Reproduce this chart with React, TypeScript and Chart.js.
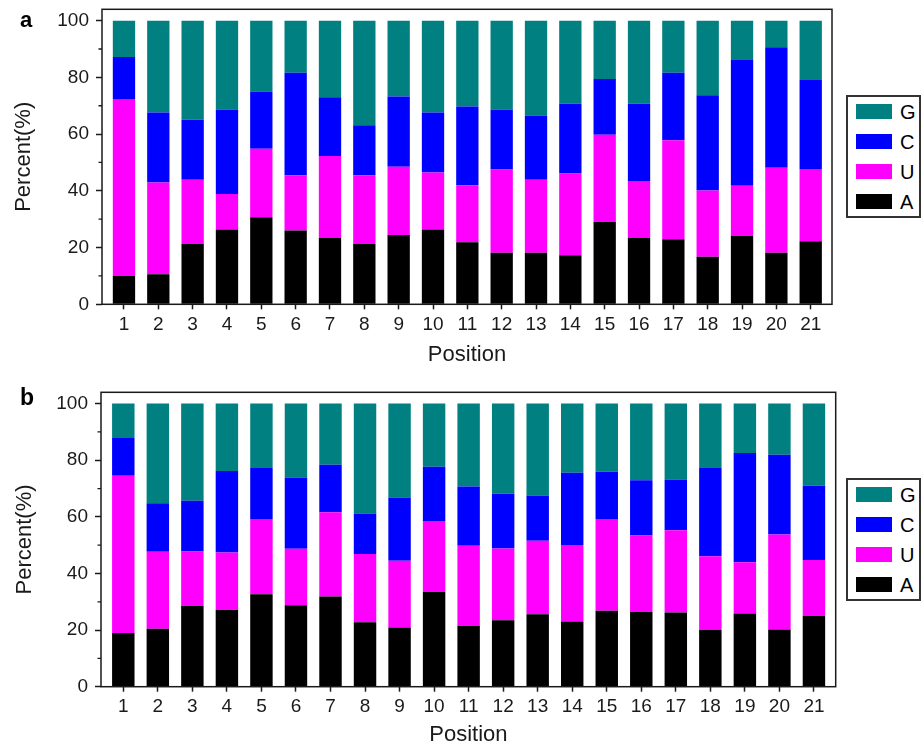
import React, { useEffect, useRef } from "react";
import { Chart, registerables } from "chart.js";

Chart.register(...registerables);

const positions = [1, 2, 3, 4, 5, 6, 7, 8, 9, 10, 11, 12, 13, 14, 15, 16, 17, 18, 19, 20, 21];
const yMajorTicks = [0, 20, 40, 60, 80, 100];
const yMinorTicks = [10, 30, 50, 70, 90];
const baseNames = ["A", "U", "C", "G"];
const baseColors = ["#000000", "#FF00FF", "#0000FF", "#008080"];
const legendOrder = [3, 2, 1, 0];

// Panel a (percent of each base per position)
const aA = [10.0, 10.6, 21.3, 26.4, 30.7, 26.0, 23.4, 21.3, 24.4, 26.4, 21.9, 18.2, 18.2, 17.3, 29.1, 23.4, 22.9, 16.8, 24.2, 18.2, 22.2];
const aU = [62.4, 32.3, 22.6, 12.5, 24.1, 19.5, 28.9, 24.2, 24.1, 20.1, 20.1, 29.3, 25.7, 28.8, 30.7, 20.1, 34.9, 23.3, 17.6, 29.9, 25.5];
const aC = [14.8, 24.7, 21.2, 29.8, 20.2, 36.1, 20.7, 17.6, 24.8, 21.1, 27.7, 21.2, 22.7, 24.6, 19.6, 27.2, 23.8, 33.6, 44.3, 42.5, 31.4];
const aG = [12.8, 32.4, 34.9, 31.3, 25.0, 18.4, 27.0, 36.9, 26.7, 32.4, 30.3, 31.3, 33.4, 29.3, 20.6, 29.3, 18.4, 26.3, 13.9, 9.4, 20.9];

// Panel b
const bA = [19.0, 20.5, 28.6, 27.2, 32.7, 28.8, 31.9, 22.8, 20.9, 33.5, 21.5, 23.5, 25.6, 23.0, 26.8, 26.4, 26.2, 20.0, 25.9, 20.2, 25.1];
const bU = [55.5, 27.2, 19.2, 20.2, 26.5, 19.9, 29.7, 24.1, 23.6, 25.0, 28.3, 25.3, 26.0, 27.1, 32.4, 27.0, 29.1, 26.1, 18.1, 33.6, 19.7];
const bC = [13.4, 17.1, 17.9, 28.8, 18.1, 25.2, 16.8, 14.3, 22.3, 19.2, 20.9, 19.4, 15.9, 25.5, 16.7, 19.5, 17.9, 31.2, 38.6, 28.1, 26.2];
const bG = [12.1, 35.2, 34.3, 23.8, 22.7, 26.1, 21.6, 38.8, 33.2, 22.3, 29.3, 31.8, 32.5, 24.4, 24.1, 27.1, 26.8, 22.7, 17.4, 18.1, 29.0];

const FONT = "'Liberation Sans', Arial, Helvetica, sans-serif";
const INK = "#1a1a1a";

const framePlugin = {
  id: "frame",
  afterDraw(chart: any) {
    const { ctx, chartArea } = chart;
    const { left, top, right, bottom } = chartArea;
    const y = chart.scales.y;
    ctx.save();
    ctx.strokeStyle = INK;
    ctx.lineWidth = 1.5;
    ctx.strokeRect(left, top, right - left, bottom - top);
    ctx.beginPath();
    for (const v of yMinorTicks) {
      const py = y.getPixelForValue(v);
      ctx.moveTo(left - 3.5, py);
      ctx.lineTo(left, py);
    }
    ctx.lineWidth = 1.3;
    ctx.stroke();
    ctx.restore();
  },
};

type PanelProps = {
  top: number;
  height: number;
  series: number[][];
  padTop: number;
  padRight: number;
  yAxisWidth: number;
  xAxisHeight: number;
  yTitlePad: number;
  xTitlePad: number;
  xMin: number;
  xMax: number;
};

function Panel(p: PanelProps) {
  const ref = useRef<HTMLCanvasElement | null>(null);
  useEffect(() => {
    if (!ref.current) return;
    const datasets = p.series.map((vals, i) => ({
      label: baseNames[i],
      data: positions.map((x, j) => ({ x, y: vals[j] })),
      backgroundColor: baseColors[i],
      borderWidth: 0,
      categoryPercentage: 1,
      barPercentage: 0.65,
    }));
    const chart = new Chart(ref.current, {
      type: "bar",
      data: { datasets },
      options: {
        animation: false,
        responsive: false,
        layout: { padding: { top: p.padTop, right: p.padRight, left: 0, bottom: 0 } },
        plugins: { legend: { display: false }, tooltip: { enabled: false } },
        scales: {
          x: {
            type: "linear",
            stacked: true,
            offset: false,
            min: p.xMin,
            max: p.xMax,
            afterBuildTicks: (axis: any) => {
              axis.ticks = positions.map((v) => ({ value: v }));
            },
            afterFit: (s: any) => {
              s.height = p.xAxisHeight;
              s.paddingLeft = 0;
              s.paddingRight = 0;
            },
            grid: {
              display: true,
              offset: false,
              drawOnChartArea: false,
              drawTicks: true,
              tickLength: 5,
              tickColor: INK,
              tickWidth: 1.5,
            },
            border: { display: false },
            ticks: {
              color: INK,
              font: { family: FONT, size: 19 },
              padding: 4,
              maxRotation: 0,
              autoSkip: false,
              callback: (v: any) => String(v),
            },
            title: {
              display: true,
              text: "Position",
              color: INK,
              font: { family: FONT, size: 22 },
              padding: { top: 0, bottom: p.xTitlePad },
            },
          },
          y: {
            type: "linear",
            stacked: true,
            min: 0,
            max: 104,
            afterBuildTicks: (axis: any) => {
              axis.ticks = yMajorTicks.map((v) => ({ value: v }));
            },
            afterFit: (s: any) => {
              s.width = p.yAxisWidth;
              s.paddingTop = 0;
              s.paddingBottom = 0;
            },
            grid: {
              display: true,
              drawOnChartArea: false,
              drawTicks: true,
              tickLength: 6,
              tickColor: INK,
              tickWidth: 1.5,
            },
            border: { display: false },
            ticks: {
              color: INK,
              font: { family: FONT, size: 19 },
              padding: 7,
              callback: (v: any) => String(v),
            },
            title: {
              display: true,
              text: "Percent(%)",
              color: INK,
              font: { family: FONT, size: 22 },
              padding: { top: p.yTitlePad, bottom: 0 },
            },
          },
        },
      },
      plugins: [framePlugin],
    } as any);
    return () => chart.destroy();
  }, []);
  return (
    <canvas
      ref={ref}
      width={924}
      height={p.height}
      style={{ position: "absolute", left: 0, top: p.top, width: 924, height: p.height }}
    />
  );
}

function Legend({ top }: { top: number }) {
  return (
    <div
      style={{
        position: "absolute",
        left: 846,
        top,
        width: 75,
        height: 123,
        boxSizing: "border-box",
        border: "2px solid #333",
        background: "#fff",
      }}
    >
      {legendOrder.map((idx, k) => (
        <div key={baseNames[idx]}>
          <div
            style={{
              position: "absolute",
              left: 8,
              top: 14.8 + 30 * k - 7.5,
              width: 36,
              height: 15,
              background: baseColors[idx],
            }}
          />
          <div
            style={{
              position: "absolute",
              left: 52,
              top: 14.8 + 30 * k - 11,
              height: 22,
              lineHeight: "22px",
              fontFamily: FONT,
              fontSize: 20,
              color: "#000",
            }}
          >
            {baseNames[idx]}
          </div>
        </div>
      ))}
    </div>
  );
}

export default function App() {
  return (
    <div
      style={{
        position: "absolute",
        left: 0,
        top: 0,
        width: 924,
        height: 745,
        overflow: "hidden",
        background: "#fff",
      }}
    >
      <Panel
        top={0}
        height={372}
        series={[aA, aU, aC, aG]}
        padTop={9.3}
        padRight={92}
        yAxisWidth={102}
        xAxisHeight={67.7}
        yTitlePad={10.8}
        xTitlePad={3.8}
        xMin={0.36}
        xMax={21.62}
      />
      <Panel
        top={372}
        height={380}
        series={[bA, bU, bC, bG]}
        padTop={20.3}
        padRight={88.3}
        yAxisWidth={101}
        xAxisHeight={65.3}
        yTitlePad={11.8}
        xTitlePad={3.8}
        xMin={0.354}
        xMax={21.63}
      />
      <div
        style={{
          position: "absolute",
          left: 20,
          top: 9,
          lineHeight: "22px",
          fontFamily: FONT,
          fontWeight: "bold",
          fontSize: 22,
          color: "#000",
        }}
      >
        a
      </div>
      <div
        style={{
          position: "absolute",
          left: 20,
          top: 386,
          lineHeight: "22px",
          fontFamily: FONT,
          fontWeight: "bold",
          fontSize: 23,
          color: "#000",
        }}
      >
        b
      </div>
      <Legend top={95} />
      <Legend top={478} />
    </div>
  );
}
